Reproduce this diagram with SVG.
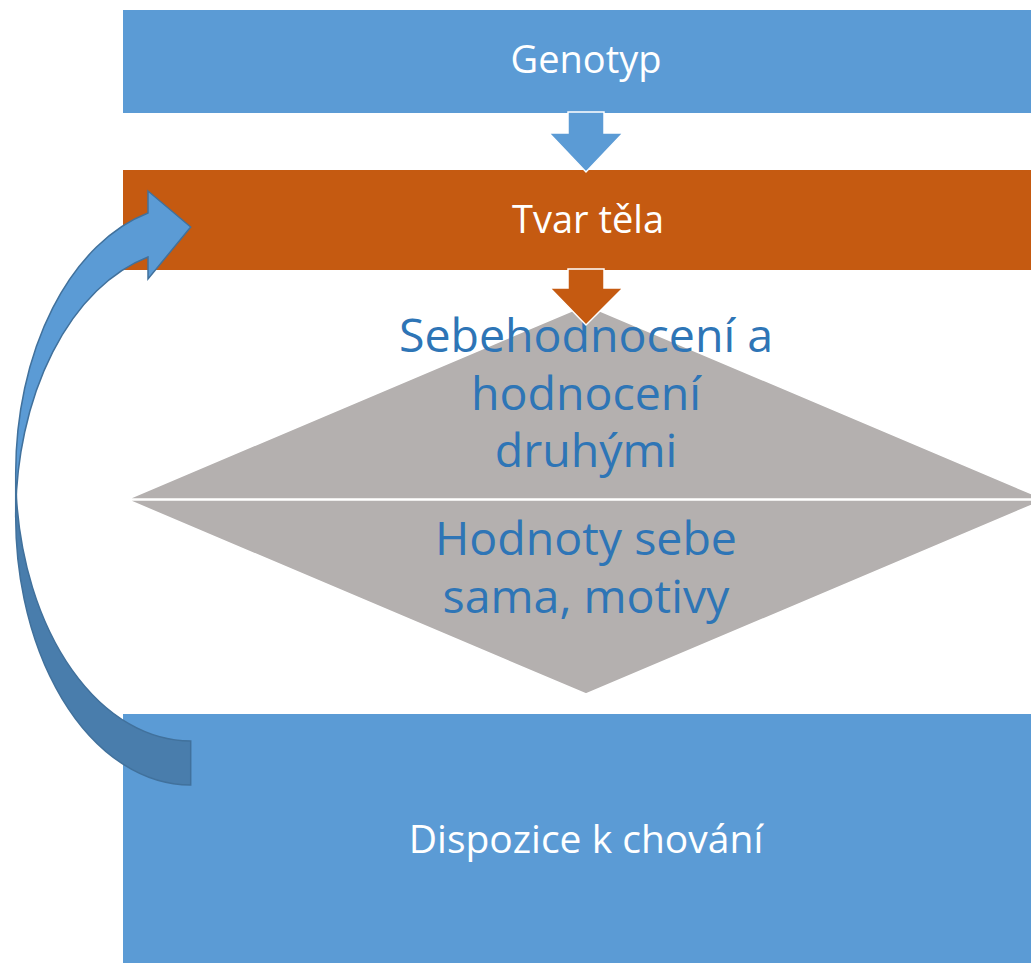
<svg xmlns="http://www.w3.org/2000/svg" width="1031" height="963" viewBox="0 0 1031 963">
<style>
.box-blue{fill:#5B9BD5;}
.box-orange{fill:#C55A11;}
.tri{fill:#B4B0AF;stroke:#FFFFFF;stroke-width:1.5;}
.wt{font-family:"Open Sans","Liberation Sans",sans-serif;fill:#FFFFFF;text-anchor:middle;font-size:38px;}
.bt{font-family:"Open Sans","Liberation Sans",sans-serif;fill:#2E75B6;text-anchor:middle;font-size:46.5px;}
.darr{stroke:#FFFFFF;stroke-width:1.5;}
.carr{stroke:#41719C;stroke-width:1.5;stroke-linejoin:miter;}
</style>
<rect width="1031" height="963" fill="#FFFFFF"/>
<g id="genotyp">
<rect class="box-blue" x="123" y="10" width="930" height="103"/>
<text class="wt" x="586" y="73">Genotyp</text>
</g>
<g id="tvar-tela">
<rect class="box-orange" x="123" y="170" width="930" height="100"/>
<text class="wt" x="588" y="233">Tvar těla</text>
</g>
<g id="sebehodnoceni">
<polygon class="tri" points="128,499 586,305 1044,499"/>
<text class="bt" x="586" y="352">Sebehodnocení a</text>
<text class="bt" x="586" y="410">hodnocení</text>
<text class="bt" x="586" y="467">druhými</text>
</g>
<g id="hodnoty">
<polygon class="tri" points="128,500 1044,500 586,694"/>
<text class="bt" x="586" y="555">Hodnoty sebe</text>
<text class="bt" x="586" y="613">sama, motivy</text>
</g>
<g id="dispozice">
<rect class="box-blue" x="123" y="714" width="930" height="260"/>
<text class="wt" x="586" y="853" style="font-size:39px">Dispozice k chování</text>
</g>
<g id="connectors">
<polygon class="darr" fill="#5B9BD5" points="568,112 604,112 604,133 623,133 586,172 549,133 568,133"/>
<polygon class="darr" fill="#C55A11" points="568,269 604,269 604,288 623,288 586,325 550,288 568,288"/>
<path class="carr" fill="#5B9BD5" d="M15.7,517 A175,268 0 0 1 148,257 L148,279 L190.7,227 L148,191 L148,213 A175,268 0 0 0 15.7,473 Z"/>
<path class="carr" fill="#497DAC" d="M190.7,741 A175,268 0 0 1 16.3,495 A175,268 0 0 0 190.7,785 Z"/>
</g>
</svg>
